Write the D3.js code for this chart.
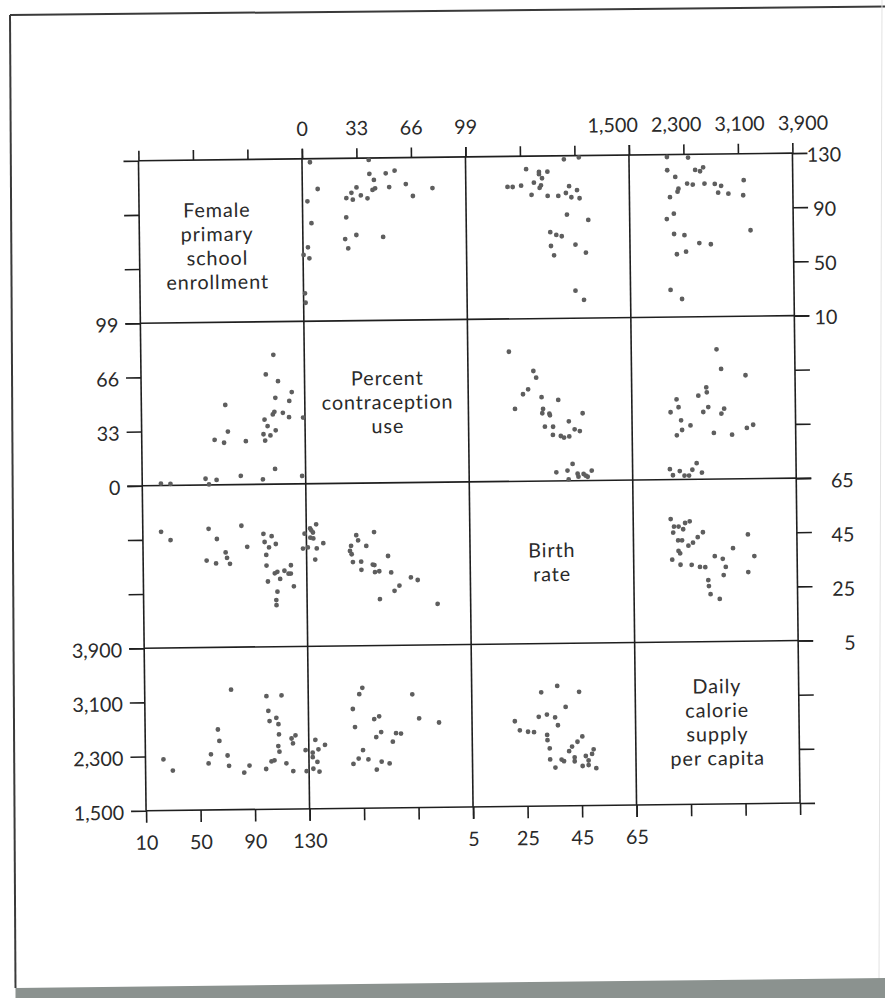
<!DOCTYPE html>
<html>
<head>
<meta charset="utf-8">
<script src="https://cdn.jsdelivr.net/npm/d3@7"></script>
<style>
  html, body { margin: 0; padding: 0; background: #fff; }
  svg { display: block; }
  text { font-family: Lato, "Open Sans", sans-serif; fill: #2a2a2a; }
</style>
</head>
<body>
<svg id="chart" width="885" height="998"></svg>
<script>
// Variables of the scatterplot matrix, in row/column order
const varLabels = [
  ["Female", "primary", "school", "enrollment"],
  ["Percent", "contraception", "use"],
  ["Birth", "rate"],
  ["Daily", "calorie", "supply", "per capita"]
];
const domains = [[10, 130], [0, 99], [5, 65], [1500, 3900]];
const tickValues = [
  [10, 50, 90, 130],
  [0, 33, 66, 99],
  [5, 25, 45, 65],
  [1500, 2300, 3100, 3900]
];

// Paired observations, one array per pair of variables: [first, second]
// enrollment vs contraception
const enrollContra = [
  [127.4, 4.8], [128.6, 40.4], [118.3, 40.7], [118.6, 50.6], [120.5, 56.0], [113.8, 43.4],
  [107.6, 9.3], [108.4, 32.8], [104.5, 29.7], [100.6, 26.6], [99.4, 30.5], [102.5, 35.4],
  [100.3, 39.4], [106.4, 42.5], [107.6, 44.1], [108.4, 52.6], [110.5, 62.7], [107.3, 78.8],
  [101.6, 66.9], [98.6, 3.0], [86.4, 26.4], [82.4, 5.3], [73.3, 32.4], [70.4, 25.6],
  [71.6, 48.6], [63.5, 27.4], [64.6, 3.0], [59.0, 0.3], [56.5, 3.8], [30.7, 0.9], [23.7, 1.2]
];
// enrollment vs birth rate
const enrollBirth = [
  [127.4, 41.1], [128.7, 46.6], [120.4, 27.2], [118.3, 31.9], [116.6, 31.9], [118.4, 35.0],
  [113.6, 33.0], [110.4, 30.0], [107.5, 20.3], [107.4, 22.2], [108.3, 25.3], [106.5, 32.1],
  [108.4, 32.6], [101.4, 29.1], [100.5, 35.0], [100.4, 38.9], [107.5, 42.9], [102.5, 41.7],
  [99.3, 43.7], [104.5, 45.8], [98.5, 46.7], [86.5, 42.0], [82.4, 49.8], [73.7, 35.8],
  [71.6, 38.0], [70.6, 40.0], [63.5, 36.0], [64.3, 45.0], [56.6, 37.1], [58.3, 48.8],
  [30.3, 44.8], [23.4, 47.9]
];
// enrollment vs calorie supply
const enrollCalorie = [
  [128.2, 2057], [127.6, 2367], [118.4, 2059], [113.4, 2176], [118.4, 2469], [117.4, 2541],
  [120.3, 2587], [108.4, 2349], [107.6, 2432], [108.2, 2604], [107.9, 2755], [106.4, 2848],
  [110.4, 3180], [104.7, 2221], [102.5, 2207], [98.5, 2095], [101.4, 2803], [100.6, 2953],
  [99.3, 3170], [86.3, 2149], [82.4, 2045], [73.4, 3272], [71.3, 2149], [70.3, 2301],
  [64.4, 2518], [63.4, 2687], [56.3, 2187], [58.1, 2322], [30.0, 2088], [23.2, 2255]
];
// contraception vs birth rate
const contraBirth = [
  [79.0, 20.1], [67.1, 29.0], [63.0, 30.0], [53.0, 25.1], [56.0, 27.0], [44.1, 22.1],
  [51.1, 31.9], [49.3, 38.0], [43.9, 32.4], [41.3, 32.1], [41.0, 34.7], [40.0, 34.9],
  [41.0, 46.9], [36.2, 41.8], [33.1, 33.0], [33.0, 36.0], [31.3, 43.9], [30.2, 45.8],
  [28.0, 35.9], [27.3, 38.8], [26.3, 40.0], [27.0, 41.9], [5.2, 37.0], [6.2, 41.1],
  [10.2, 43.0], [4.2, 44.8], [2.4, 45.1], [4.0, 47.0], [2.3, 48.5], [6.0, 50.0],
  [3.0, 47.8], [0.8, 41.5]
];
// contraception vs calorie supply
const contraCalorie = [
  [79.0, 2752], [67.0, 2816], [63.0, 3173], [55.9, 2595], [52.9, 2602], [50.9, 2477],
  [48.8, 2157], [44.0, 2185], [41.0, 2067], [43.9, 2621], [40.9, 2547], [42.8, 2854],
  [39.8, 2813], [36.0, 2220], [32.8, 2357], [30.1, 2233], [26.9, 2155], [28.1, 2699],
  [26.9, 2966], [30.9, 3184], [32.8, 3277], [6.3, 2047], [2.6, 2091], [5.1, 2192],
  [2.3, 2261], [2.3, 2328], [5.8, 2377], [9.8, 2441], [4.0, 2517]
];
// birth rate vs calorie supply
const birthCalorie = [
  [50.4, 2050], [47.6, 2098], [47.6, 2165], [46.6, 2232], [48.9, 2261], [49.5, 2329],
  [45.4, 2085], [45.4, 2521], [43.6, 2444], [42.5, 2156], [42.5, 2214], [41.6, 2374],
  [40.5, 2306], [44.4, 3181], [38.6, 2160], [37.7, 2184], [39.4, 2960], [35.4, 2066],
  [33.5, 2187], [33.4, 2351], [32.6, 2472], [32.5, 2550], [36.5, 2691], [35.5, 2808],
  [32.5, 2851], [36.4, 3272], [29.5, 2819], [30.5, 3180], [27.7, 2592], [25.5, 2600],
  [22.5, 2623], [20.7, 2757]
];

// which pair array holds variables (a, b), with a < b
const pairs = {
  "0-1": enrollContra, "0-2": enrollBirth, "0-3": enrollCalorie,
  "1-2": contraBirth, "1-3": contraCalorie, "2-3": birthCalorie
};

// ---- layout ----
const x0 = 142.25, y0 = 156.9, cw = 163.5, ch = 162.5, n = 4;
const ink = "#1f1f1f";
const fontSize = 19.8;
const fmt = d3.format(",");

const svg = d3.select("#chart");

// page frame of the printed sheet
svg.append("path").attr("d", "M10,15 L885,6.5").attr("stroke", "#3a3a3a").attr("stroke-width", 2).attr("fill", "none");
svg.append("path").attr("d", "M10,15 L15.5,988").attr("stroke", "#3a3a3a").attr("stroke-width", 2).attr("fill", "none");
svg.append("path").attr("d", "M882,0 L879,980").attr("stroke", "#e2e2e2").attr("stroke-width", 1).attr("fill", "none");
svg.append("path").attr("d", "M15.5,988 L885,978 L885,998 L15.5,998 Z").attr("fill", "#8b928f");

const g = svg.append("g").attr("transform", "rotate(-0.67 469.25 481.9)");

const xs = domains.map((d, j) => d3.scaleLinear().domain(d).range([x0 + j * cw, x0 + (j + 1) * cw]));
const ys = domains.map((d, i) => d3.scaleLinear().domain(d).range([y0 + (i + 1) * ch, y0 + i * ch]));

// grid of cells
for (let k = 0; k <= n; k++) {
  g.append("line").attr("x1", x0 + k * cw).attr("x2", x0 + k * cw)
    .attr("y1", y0).attr("y2", y0 + n * ch)
    .attr("stroke", ink).attr("stroke-width", 1.6);
  g.append("line").attr("y1", y0 + k * ch).attr("y2", y0 + k * ch)
    .attr("x1", x0).attr("x2", x0 + n * cw)
    .attr("stroke", ink).attr("stroke-width", 1.6);
}

function styleAxis(sel) {
  sel.select(".domain").remove();
  sel.selectAll(".tick line").attr("stroke", ink).attr("stroke-width", 1.6);
  sel.selectAll(".tick text")
    .style("font-family", 'Lato, "Open Sans", sans-serif')
    .style("font-size", fontSize + "px").attr("fill", "#2a2a2a");
}

const topLabeled = [false, true, false, true];
const bottomLabeled = [true, false, true, false];
const leftLabeled = [false, true, false, true];
const rightLabeled = [true, false, true, false];

for (let j = 0; j < n; j++) {
  // top axis
  const top = g.append("g").attr("transform", `translate(0,${y0})`)
    .call(d3.axisTop(xs[j]).tickValues(tickValues[j]).tickSize(10).tickSizeOuter(0)
      .tickPadding(13).tickFormat(d => topLabeled[j] ? fmt(d) : ""));
  styleAxis(top);
  if (j === 3) {
    // calorie labels are spread wider than their ticks
    const cx = x0 + 3.5 * cw;
    top.selectAll(".tick text").attr("x", d => (xs[j](d) - cx) * 0.164 - 3);
  }

  // bottom axis
  const bottom = g.append("g").attr("transform", `translate(0,${y0 + n * ch})`)
    .call(d3.axisBottom(xs[j]).tickValues(tickValues[j]).tickSize(12).tickSizeOuter(0)
      .tickFormat(d => bottomLabeled[j] ? fmt(d) : ""));
  styleAxis(bottom);
  bottom.selectAll(".tick text").attr("y", 39).attr("dy", 0);
}

for (let i = 0; i < n; i++) {
  const left = g.append("g").attr("transform", `translate(${x0},0)`)
    .call(d3.axisLeft(ys[i]).tickValues(tickValues[i]).tickSize(15).tickSizeOuter(0)
      .tickPadding(7).tickFormat(d => leftLabeled[i] ? fmt(d) : ""));
  styleAxis(left);
  left.selectAll(".tick text").attr("dy", "0.42em");

  const right = g.append("g").attr("transform", `translate(${x0 + n * cw},0)`)
    .call(d3.axisRight(ys[i]).tickValues(tickValues[i]).tickSize(15).tickSizeOuter(0)
      .tickFormat(d => rightLabeled[i] ? fmt(d) : ""));
  styleAxis(right);
  if (i === 0) {
    right.selectAll(".tick text").attr("x", 31.5).attr("text-anchor", "middle").attr("dy", "0.42em");
  } else {
    right.selectAll(".tick text").attr("x", 57.5).attr("text-anchor", "end").attr("dy", "0.47em");
  }
}

// diagonal name cells, one text per line
const labelShift = [12, 7.5, 7, 6.5];
const labelDx = [-4, 1, 0, 0];
varLabels.forEach((lines, k) => {
  const cx = x0 + (k + 0.5) * cw + labelDx[k];
  const cy = y0 + (k + 0.5) * ch;
  lines.forEach((line, li) => {
    g.append("text").attr("text-anchor", "middle")
      .style("font-size", fontSize + "px")
      .style("letter-spacing", "0.9px")
      .attr("x", cx)
      .attr("y", cy + (li - (lines.length - 1) / 2) * 24 + labelShift[k])
      .text(line);
  });
});

// scatter cells
for (let i = 0; i < n; i++) {
  for (let j = 0; j < n; j++) {
    if (i === j) continue;
    const a = Math.min(i, j), b = Math.max(i, j);
    const data = pairs[`${a}-${b}`];
    const xv = d => (j === a ? d[0] : d[1]);
    const yv = d => (i === a ? d[0] : d[1]);
    g.append("g").selectAll("circle").data(data).join("circle")
      .attr("cx", d => xs[j](xv(d)))
      .attr("cy", d => ys[i](yv(d)))
      .attr("r", 2.4)
      .attr("fill", "#5e5e5e");
  }
}
</script>
</body>
</html>
